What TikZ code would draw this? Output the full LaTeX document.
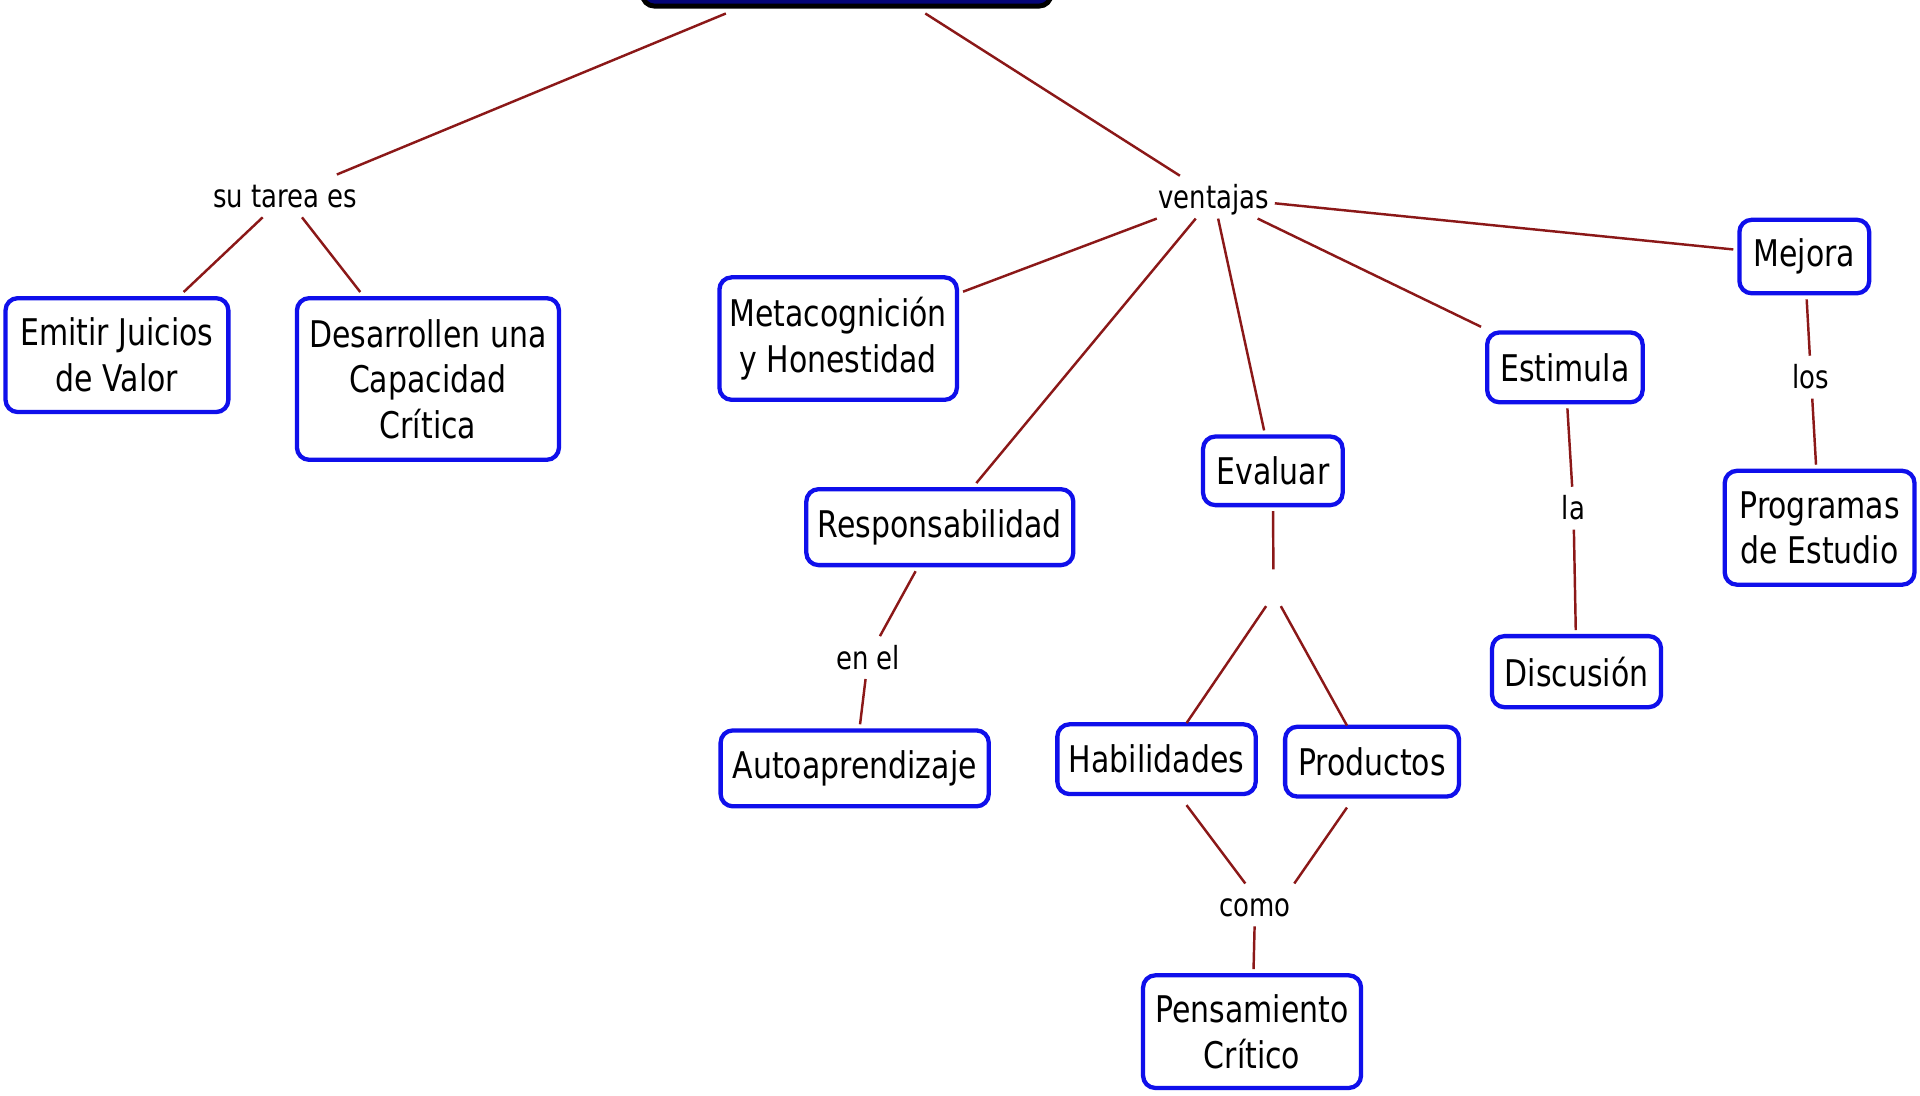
\documentclass[tikz,border=0pt]{standalone}
\usepackage{fontspec}
\setmainfont{DejaVu Sans}[FakeStretch=0.815]
\newcommand\cmNodeFont{\fontsize{30}{37.3}\selectfont}
\newcommand\cmLinkFont{\fontsize{26}{32}\selectfont}
\definecolor{cmred}{RGB}{139,24,24}
\definecolor{cmblue}{RGB}{15,15,235}
\definecolor{cmnavy}{RGB}{5,5,120}
\tikzset{
  concept/.style={draw=cmblue, line width=3.5pt, rounded corners=10pt, fill=white,
    align=center, font=\cmNodeFont, inner sep=0pt, outer sep=5pt, text=black},
  topbox/.style={draw=black, line width=4pt, rounded corners=10pt, fill=cmnavy, outer sep=6pt},
  linkph/.style={font=\cmLinkFont, inner xsep=5pt, inner ysep=5pt, text height=22pt, text depth=3pt, outer sep=0pt},
  emptyph/.style={inner sep=0pt, minimum width=2pt, minimum height=30pt, outer sep=0pt},
  conn/.style={draw=cmred, line width=2pt}
}
\begin{document}
\begin{tikzpicture}[x=1pt,y=-1pt]
\useasboundingbox (0,0) rectangle (1568,895);
\fill[white] (0,0) rectangle (1568,895);

% concepts
\node[topbox, minimum width=334pt, minimum height=70pt] (top) at (691.5,-30) {};
\node[concept, minimum width=182pt, minimum height=93pt] (emitir) at (95.5,290) {Emitir Juicios\\de Valor};
\node[concept, minimum width=214pt, minimum height=132pt] (desarr) at (349.5,309.5) {Desarrollen una\\Capacidad\\Crítica};
\node[concept, minimum width=194pt, minimum height=100pt] (meta) at (684.5,276.5) {Metacognición\\y Honestidad};
\node[concept, minimum width=218pt, minimum height=62pt] (resp) at (767.5,430.5) {Responsabilidad};
\node[concept, minimum width=219pt, minimum height=62pt] (auto) at (698,627.5) {Autoaprendizaje};
\node[concept, minimum width=114pt, minimum height=56pt] (eval) at (1039.5,384.5) {Evaluar};
\node[concept, minimum width=162pt, minimum height=57pt] (habil) at (944.5,620) {Habilidades};
\node[concept, minimum width=142pt, minimum height=57pt] (prod) at (1120.5,622) {Productos};
\node[concept, minimum width=178pt, minimum height=92pt] (pens) at (1022.5,842.5) {Pensamiento\\Crítico};
\node[concept, minimum width=127pt, minimum height=57pt] (estim) at (1278,300) {Estimula};
\node[concept, minimum width=138pt, minimum height=58pt] (disc) at (1287.5,548.5) {Discusión};
\node[concept, minimum width=106pt, minimum height=60pt] (mejora) at (1473.5,209.5) {Mejora};
\node[concept, minimum width=155pt, minimum height=93pt] (prog) at (1486,431) {Programas\\de Estudio};

% linking phrases
\node[linkph] (tarea) at (233,160) {su tarea es};
\node[linkph] (vent) at (991,161) {ventajas};
\node[linkph] (enel) at (709,537) {en el};
\node[emptyph] (vacio) at (1040,480) {};
\node[linkph] (como) at (1025,739) {como};
\node[linkph] (la) at (1285,415) {la};
\node[linkph] (los) at (1479,308) {los};

% connectors
\draw[conn] (top) -- (tarea);
\draw[conn] (top) -- (vent);
\draw[conn] (tarea) -- (emitir);
\draw[conn] (tarea) -- (desarr);
\draw[conn] (vent) -- (meta);
\draw[conn] (vent) -- (resp);
\draw[conn] (vent) -- (eval);
\draw[conn] (vent) -- (estim);
\draw[conn] (vent) -- (mejora);
\draw[conn] (resp) -- (enel);
\draw[conn] (enel) -- (auto);
\draw[conn] (eval) -- (vacio);
\draw[conn] ([xshift=-6pt]vacio.south) -- ([xshift=24.5pt,yshift=-4pt]habil.north);
\draw[conn] ([xshift=6pt]vacio.south) -- ([xshift=-20.5pt,yshift=-4pt]prod.north);
\draw[conn] ([xshift=24.5pt,yshift=-4pt]habil.south) -- ([xshift=-8pt]como.north);
\draw[conn] ([xshift=-20.5pt,yshift=-4pt]prod.south) -- ([xshift=32pt]como.north);
\draw[conn] (como) -- (pens);
\draw[conn] (estim) -- (la);
\draw[conn] (la) -- (disc);
\draw[conn] (mejora) -- (los);
\draw[conn] (los) -- (prog);
\end{tikzpicture}
\end{document}
